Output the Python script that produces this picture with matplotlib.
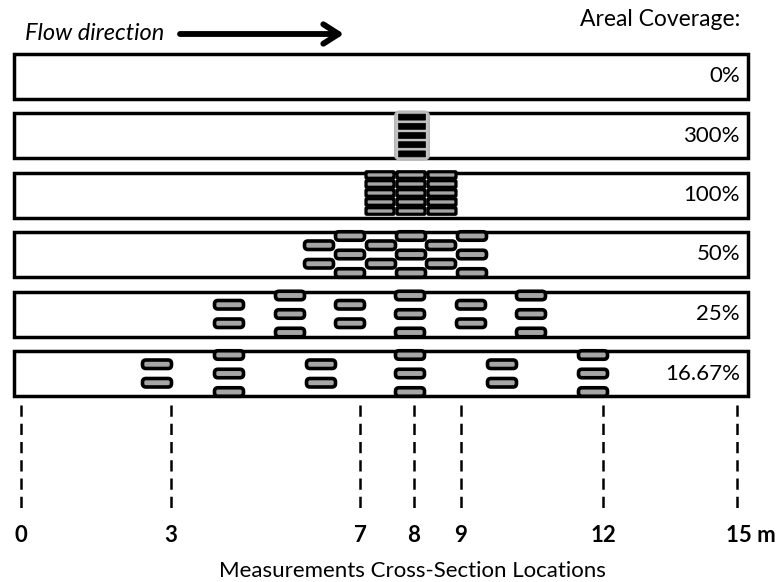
import numpy as np
import matplotlib.pyplot as plt
from matplotlib.patches import Rectangle, FancyBboxPatch

plt.rcParams['font.family'] = ['Lato', 'DejaVu Sans']

# coverage scenarios, top to bottom
coverage = ['0%', '300%', '100%', '50%', '25%', '16.67%']

# measurement cross sections
section_lbl = ['0', '3', '7', '8', '9', '12', '15 m']
section_x = [21, 171, 360, 414, 461, 603, 737]   # drawing units (schematic, not to scale)

# block columns in each strip: column centre and number of blocks stacked across the flume
cols_300 = [412]
cols_100 = [380, 411, 442]
cols_50 = [319, 350, 381, 411, 441, 472]
cnt_50 = [2, 3, 2, 3, 2, 3]
cols_25 = [229, 290, 350, 410, 471, 531]
cnt_25 = [2, 3, 2, 3, 2, 3]
cols_17 = [157, 229, 321, 410, 502, 593]
cnt_17 = [2, 3, 2, 3, 2, 3]

W, H = 777, 582
fig = plt.figure(figsize=(W / 100, H / 100), dpi=100)
ax = fig.add_axes([0, 0, 1, 1])
ax.set_xlim(0, W)
ax.set_ylim(H, 0)
ax.axis('off')

strip_x0, strip_x1 = 14, 748
strip_h = 45
y0, dy = 76, 59.5
centres = [y0 + i * dy for i in range(len(coverage))]

grey = '#a6a6a6'


def block(xc, yc, w=29, h=8.5, fc=grey, ec='black', r=3.5, lw=2.6, z=3):
    ax.add_patch(FancyBboxPatch((xc - w / 2, yc - h / 2), w, h,
                                boxstyle=f'round,pad=0,rounding_size={r}',
                                fc=fc, ec=ec, lw=lw, zorder=z))


def sparse(yc, cols, counts, pitch=18.5):
    for xc, n in zip(cols, counts):
        offs = (np.arange(n) - (n - 1) / 2) * pitch
        for o in offs:
            block(xc, yc + o)


for yc, lbl in zip(centres, coverage):
    ax.add_patch(Rectangle((strip_x0, yc - strip_h / 2), strip_x1 - strip_x0, strip_h,
                           fc='white', ec='black', lw=2.5, zorder=1))
    ax.text(740, yc, lbl, ha='right', va='center', fontsize=16)

# 300 %
yc = centres[1]
for xc in cols_300:
    ax.add_patch(FancyBboxPatch((xc - 17, yc - 24), 34, 48,
                                boxstyle='round,pad=0,rounding_size=5',
                                fc='#c4c4c4', ec='#b8b8b8', lw=1.5, zorder=2))
    for o in (np.arange(5) - 2) * 9.2:
        block(xc, yc + o, w=27, h=6, fc='black', ec='black', r=0.3, lw=0.5)

# 100 %
yc = centres[2]
for xc in cols_100:
    for o in (np.arange(5) - 2) * 9:
        block(xc, yc - 2 + o, w=28, h=6.5, r=0.8, lw=2.3)

sparse(centres[3], cols_50, cnt_50)
sparse(centres[4], cols_25, cnt_25)
sparse(centres[5], cols_17, cnt_17)

# flow direction
ax.text(25, 33, 'Flow direction', ha='left', va='center', fontsize=17, style='italic')
ax.annotate('', xy=(344, 34), xytext=(180, 34),
            arrowprops=dict(arrowstyle='->,head_length=1.1,head_width=0.7',
                            lw=4.2, color='black', shrinkA=0, shrinkB=0))
ax.text(740, 20, 'Areal Coverage:', ha='right', va='center', fontsize=16.5)

# cross sections
for xs, lbl in zip(section_x, section_lbl):
    ax.plot([xs, xs], [405, 512], color='black', lw=1.8, ls=(0, (4.5, 2.8)), zorder=1)
    if lbl.endswith('m'):
        ax.text(W - 1, 536, lbl, ha='right', va='center', fontsize=16, fontweight='bold')
    else:
        ax.text(xs, 536, lbl, ha='center', va='center', fontsize=16, fontweight='bold')

ax.text(412, 571, 'Measurements Cross-Section Locations', ha='center', va='center', fontsize=16)

fig.savefig('out.png', dpi=100)
